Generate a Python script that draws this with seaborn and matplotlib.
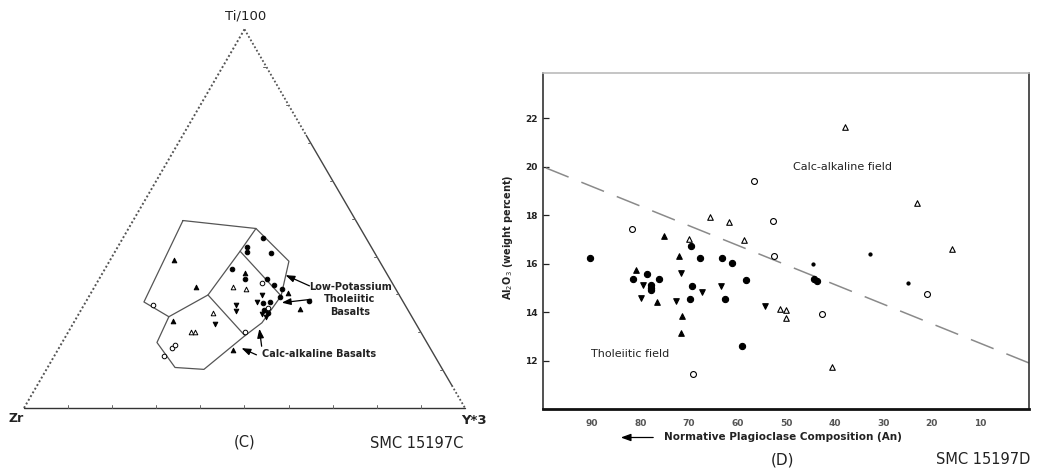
import numpy as np
import pandas as pd
import matplotlib
matplotlib.use("Agg")
import matplotlib.pyplot as plt
import seaborn as sns

# ---------------- Panel (C): Ti/100 - Zr - Y*3 ternary (percent) ----------------
# field outline vertices (Ti, Y*3 percent; Zr = remainder)
outline_ti = [49.5, 47.4, 38.75, 29.6, 22.5, 19.1, 10.2, 10.7, 17.3, 24.1, 28.0, 49.5]
outline_y3 = [11.3, 28.9, 40.7, 43.5, 42.7, 40.55, 35.7, 28.9, 21.5, 20.8, 13.2, 11.3]
inner1_ti = [47.4, 41.4, 29.85, 24.1]
inner1_y3 = [28.9, 28.3, 26.8, 20.8]
inner2_ti = [41.4, 29.6]
inner2_y3 = [28.3, 43.5]
inner3_ti = [29.85, 19.1]
inner3_y3 = [26.8, 40.55]

tern_sym = (["filled_circle"] * 15 + ["filled_up"] * 7 + ["open_up"] * 5
            + ["open_circle"] * 7 + ["filled_down"] * 7)
tern_ti = [45.0, 42.4, 41.1, 40.8, 36.8, 34.0, 34.1, 32.5, 31.3, 29.3, 27.8, 28.1, 25.9, 25.1, 28.3,
           39.2, 32.0, 35.7, 30.4, 26.2, 15.4, 22.9,
           31.9, 31.3, 25.1, 20.0, 20.0,
           27.2, 33.1, 26.5, 20.0, 15.9, 16.7, 13.6,
           29.85, 28.1, 27.15, 25.5, 22.2, 24.1, 24.9]
tern_y3 = [31.6, 29.4, 30.05, 35.6, 28.7, 33.2, 38.1, 40.4, 42.8, 43.4, 40.4, 41.75, 41.45, 42.75, 50.45,
           14.4, 22.9, 32.25, 44.7, 49.5, 39.8, 22.35,
           31.55, 34.65, 30.25, 27.8, 28.8,
           15.6, 37.35, 42.15, 40.1, 25.55, 25.85, 24.9,
           39.1, 38.75, 34.5, 35.35, 32.1, 42.85, 41.55]

# ---------------- Panel (D): Al2O3 vs normative plagioclase An ----------------
d_sym = (["filled_circle"] * 18 + ["dot"] * 3 + ["open_circle"] * 7 + ["open_up"] * 11
         + ["filled_up"] * 6 + ["filled_down"] * 7)
d_an = [90.4, 81.5, 78.6, 77.7, 77.7, 77.7, 76.1, 69.6, 67.6, 69.4, 69.7, 63.1, 61.2, 62.5, 58.3, 59.1, 44.3, 43.7,
        44.5, 32.7, 24.8,
        81.7, 56.5, 52.7, 52.4, 42.6, 21.0, 69.2,
        65.7, 61.7, 70.0, 58.6, 37.8, 23.1, 15.9, 51.3, 50.0, 50.0, 40.5,
        80.8, 75.2, 76.6, 72.0, 71.3, 71.7,
        79.4, 79.9, 71.6, 72.7, 67.3, 63.4, 54.4]
d_al = [16.23, 15.37, 15.59, 15.12, 15.0, 14.9, 15.37, 16.74, 16.23, 15.06, 14.55, 16.23, 16.04, 14.54, 15.31, 12.62, 15.37, 15.27,
        16.0, 16.41, 15.2,
        17.44, 19.43, 17.74, 16.31, 13.94, 14.75, 11.45,
        17.93, 17.71, 17.01, 16.96, 21.64, 18.51, 16.59, 14.13, 14.09, 13.76, 11.74,
        15.75, 17.15, 14.43, 16.33, 13.84, 13.14,
        15.13, 14.60, 15.61, 14.47, 14.82, 15.08, 14.27]
boundary_an = [100, 0]
boundary_al = [20.0, 11.9]
x_ticks = [90, 80, 70, 60, 50, 40, 30, 20, 10]
y_ticks = [12, 14, 16, 18, 20, 22]

# ---------------- styling ----------------
sns.set_style("white")
plt.rcParams["font.family"] = ["DejaVu Sans"]

W, H = 1041, 470
fig = plt.figure(figsize=(W / 100, H / 100), dpi=100)


def fx(px):
    return px / W


def fy(py):
    return 1 - py / H


STY = {
    "filled_circle": dict(marker="o", color="black", edgecolor="black"),
    "open_circle": dict(marker="o", color="white", edgecolor="black"),
    "filled_up": dict(marker="^", color="black", edgecolor="black"),
    "open_up": dict(marker="^", color="white", edgecolor="black"),
    "filled_down": dict(marker="v", color="black", edgecolor="black"),
    "dot": dict(marker="o", color="black", edgecolor="black"),
}
INK = "#222222"

# ---- ternary axes ----
axc = fig.add_axes([0, 0, 520 / W, 1])
sx = 441.0
sy = 378.7 / (np.sqrt(3) / 2)
axc.set_xlim(-24 / sx, (520 - 24) / sx)
axc.set_ylim(-(470 - 408) / sy, 408 / sy)
axc.axis("off")


def tern_xy(ti, y3):
    ti = np.asarray(ti, float) / 100
    y3 = np.asarray(y3, float) / 100
    return y3 + ti / 2, ti * np.sqrt(3) / 2


# triangle frame (Zr bottom-left, Y*3 bottom-right, Ti/100 apex)
frame_ti = [0, 100, 0]
frame_y3 = [0, 0, 100]
fxs, fys = tern_xy(frame_ti, frame_y3)
dotted = (0, (1, 1.2))
axc.plot([fxs[0], fxs[1]], [fys[0], fys[1]], color="#555555", lw=1.4, ls=dotted)
# right side: dotted near the apex and near the Y*3 corner, solid in between
r_top = 0.72
axc.plot([fxs[1], 1 - r_top / 2], [fys[1], r_top * np.sqrt(3) / 2], color="#555555", lw=1.3, ls=dotted)
axc.plot([1 - r_top / 2, 1 - 0.06 / 2], [r_top * np.sqrt(3) / 2, 0.06 * np.sqrt(3) / 2],
         color="#444444", lw=1.0)
axc.plot([1 - 0.06 / 2, fxs[2]], [0.06 * np.sqrt(3) / 2, fys[2]], color="#555555", lw=1.3, ls=dotted)
axc.plot([fxs[2], fxs[0]], [fys[2], fys[0]], color="#333333", lw=1.0)
# small inward ticks
for k in range(1, 10):
    t = k / 10
    axc.plot([t, t], [0, 0.006], color="#666666", lw=0.7)
    px_, py_ = 1 - t / 2, t * np.sqrt(3) / 2
    axc.plot([px_, px_ - 0.007], [py_, py_], color="#666666", lw=0.7)

for tt, yy in [(outline_ti, outline_y3), (inner1_ti, inner1_y3),
               (inner2_ti, inner2_y3), (inner3_ti, inner3_y3)]:
    xs, ys = tern_xy(tt, yy)
    axc.plot(xs, ys, color="#555555", lw=0.9)

tx, ty = tern_xy(tern_ti, tern_y3)
tdf = pd.DataFrame({"x": tx, "y": ty, "sym": tern_sym})
for s, g in tdf.groupby("sym"):
    sns.scatterplot(data=g, x="x", y="y", ax=axc, s=11, linewidth=0.7,
                    legend=False, zorder=3, **STY[s])
axc.set_xlabel("")
axc.set_ylabel("")

fig.text(fx(246), fy(16), "Ti/100", ha="center", va="center", fontsize=9.5, color=INK)
fig.text(fx(16), fy(419), "Zr", ha="center", va="center", fontsize=9, color=INK, fontweight="bold")
fig.text(fx(474), fy(420), "Y*3", ha="center", va="center", fontsize=9.5, color=INK, fontweight="bold")
fig.text(fx(245), fy(442), "(C)", ha="center", va="center", fontsize=10.5, color=INK)
fig.text(fx(463), fy(443), "SMC 15197C", ha="right", va="center", fontsize=10.5, color=INK)

fig.text(fx(350), fy(287), "Low-Potassium", ha="center", va="center", fontsize=7, color=INK, fontweight="bold")
fig.text(fx(350), fy(299.5), "Tholeiitic", ha="center", va="center", fontsize=7, color=INK, fontweight="bold")
fig.text(fx(350), fy(312), "Basalts", ha="center", va="center", fontsize=7, color=INK, fontweight="bold")
fig.text(fx(262), fy(354), "Calc-alkaline Basalts", ha="left", va="center", fontsize=7, color=INK, fontweight="bold")

arrow_kw = dict(arrowstyle="-|>,head_length=0.6,head_width=0.22", color="black", lw=0.9)
for (x0, y0), (x1, y1) in [((312, 287), (283, 274)), ((314, 299), (279, 303)),
                           ((259, 356), (239, 347)), ((262, 349), (259, 326))]:
    fig.add_artist(matplotlib.patches.FancyArrowPatch(
        (fx(x0), fy(y0)), (fx(x1), fy(y1)), transform=fig.transFigure,
        mutation_scale=9, **arrow_kw))

# ---- scatter panel (D) ----
axd = fig.add_axes([543 / W, (H - 409) / H, 486 / W, 336 / H])
ddf = pd.DataFrame({"an": d_an, "al": d_al, "sym": d_sym})
sizes = {"filled_circle": 20, "open_circle": 18, "open_up": 16, "filled_up": 16,
         "filled_down": 16, "dot": 5}
for s, g in ddf.groupby("sym"):
    sns.scatterplot(data=g, x="an", y="al", ax=axd, s=sizes[s], linewidth=0.8,
                    legend=False, zorder=3, **STY[s])
sns.lineplot(x=boundary_an, y=boundary_al, ax=axd, color="#8a8a8a", lw=1.1,
             dashes=False, zorder=2).lines[-1].set_dashes([16, 9])

axd.set_xlim(100, 0)
axd.set_ylim(10, 23.87)
axd.set_xticks(x_ticks)
axd.set_xticklabels([str(v) for v in x_ticks], fontsize=6.5, fontweight="bold", color="#555555")
axd.set_yticks(y_ticks)
axd.set_yticklabels([str(v) for v in y_ticks], fontsize=6.5, fontweight="bold", color=INK)
axd.tick_params(axis="y", direction="in", length=4, width=0.9, pad=4, left=True, color=INK)
axd.tick_params(axis="x", length=0, pad=7)
axd.set_xlabel("")
axd.set_ylabel(r"Al$_2$O$_3$ (weight percent)", fontsize=7, color=INK, fontweight="bold")
axd.yaxis.set_label_coords((515 - 543) / 486, 0.51)

for side, (c, w) in {"left": (INK, 1.1), "bottom": ("#111111", 2.0),
                     "top": ("#bbbbbb", 1.2), "right": ("#333333", 1.2)}.items():
    axd.spines[side].set_visible(True)
    axd.spines[side].set_color(c)
    axd.spines[side].set_linewidth(w)

axd.text(48.5, 20.0, "Calc-alkaline field", ha="left", va="center", fontsize=8, color=INK)
axd.text(90.1, 12.29, "Tholeiitic field", ha="left", va="center", fontsize=8, color=INK)

fig.add_artist(matplotlib.patches.FancyArrowPatch(
    (fx(656), fy(437.5)), (fx(618), fy(437.5)), transform=fig.transFigure,
    mutation_scale=10, **arrow_kw))
fig.text(fx(664), fy(437.5), "Normative Plagioclase Composition (An)", ha="left", va="center",
         fontsize=7.5, color=INK, fontweight="bold")
fig.text(fx(783), fy(460), "(D)", ha="center", va="center", fontsize=11, color=INK)
fig.text(fx(1030), fy(460), "SMC 15197D", ha="right", va="center", fontsize=10.5, color=INK)

fig.savefig("out.png", dpi=100, facecolor="white")
